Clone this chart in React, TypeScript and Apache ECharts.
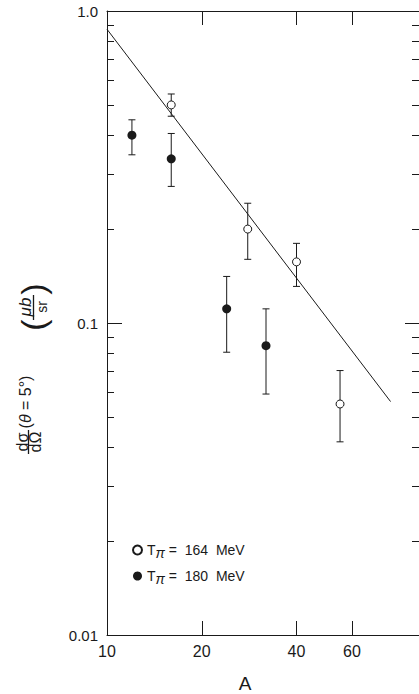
import React, { useEffect, useRef } from "react";
import * as echarts from "echarts";

const A_164 = [16, 28, 40, 55];
const S_164 = [0.5, 0.2, 0.157, 0.055];
const LO_164 = [0.46, 0.16, 0.131, 0.0416];
const HI_164 = [0.542, 0.242, 0.18, 0.0704];

const A_180 = [12, 16, 24, 32];
const S_180 = [0.4, 0.336, 0.111, 0.0846];
const LO_180 = [0.346, 0.274, 0.0806, 0.0592];
const HI_180 = [0.448, 0.405, 0.141, 0.111];

const FIT_A = [10, 79.6];
const FIT_S = [0.874, 0.056];

const X_LABELS = [10, 20, 40, 60];
const X_TICKS = [20, 40, 60];
const Y_LABELS = [0.01, 0.1, 1];
const Y_MAJOR = [0.1];
const Y_MINOR = [0.02, 0.03, 0.04, 0.05, 0.06, 0.07, 0.08, 0.09, 0.2, 0.3, 0.4, 0.5, 0.6, 0.7, 0.8, 0.9];

const NAME_164 = "Tπ = 164 MeV";
const NAME_180 = "Tπ = 180 MeV";

const INK = "#1a1a1a";
const FONT = "Liberation Sans";

export default function App() {
  const ref = useRef<HTMLDivElement>(null);
  useEffect(() => {
    if (!ref.current) return;
    const chart = echarts.init(ref.current, null, { renderer: "svg" });

    const errData = (a: number[], lo: number[], hi: number[]) => a.map((v, i) => [v, lo[i], hi[i]]);
    const renderErr = (params: any, api: any) => {
      const x = api.value(0);
      const p1 = api.coord([x, api.value(2)]);
      const p2 = api.coord([x, api.value(1)]);
      const w = 3.5;
      const st = { stroke: INK, lineWidth: 1 };
      return {
        type: "group",
        children: [
          { type: "line", shape: { x1: p1[0], y1: p1[1], x2: p2[0], y2: p2[1] }, style: st },
          { type: "line", shape: { x1: p1[0] - w, y1: p1[1], x2: p1[0] + w, y2: p1[1] }, style: st },
          { type: "line", shape: { x1: p2[0] - w, y1: p2[1], x2: p2[0] + w, y2: p2[1] }, style: st },
        ],
      };
    };

    const xBase = {
      type: "log",
      logBase: 10,
      min: 10,
      max: 98,
      splitLine: { show: false },
      minorTick: { show: false },
      axisLine: { show: true, lineStyle: { color: INK, width: 1 } },
    };
    const yBase = {
      type: "log",
      logBase: 10,
      min: 0.01,
      max: 1,
      splitLine: { show: false },
      minorTick: { show: false },
      axisLine: { show: false },
      axisLabel: { show: false },
    };

    chart.setOption({
      animation: false,
      backgroundColor: "#fff",
      textStyle: { fontFamily: FONT },
      grid: { left: 107, top: 11, right: -1, bottom: 59 },
      xAxis: [
        {
          ...xBase,
          position: "bottom",
          axisTick: { show: true, inside: true, length: 14, customValues: X_TICKS, lineStyle: { color: INK } },
          axisLabel: {
            show: true,
            customValues: X_LABELS,
            formatter: (v: number) => String(Math.round(v)),
            fontSize: 16,
            color: INK,
            margin: 8,
            fontFamily: FONT,
          },
        },
        {
          ...xBase,
          position: "top",
          axisTick: { show: true, inside: true, length: 14, customValues: X_TICKS, lineStyle: { color: INK } },
          axisLabel: { show: false },
        },
      ],
      yAxis: [
        {
          ...yBase,
          position: "left",
          axisLine: { show: true, lineStyle: { color: INK, width: 1 } },
          axisTick: { show: true, inside: true, length: 7, customValues: Y_MINOR, lineStyle: { color: INK } },
          axisLabel: {
            show: true,
            customValues: Y_LABELS,
            formatter: (v: number) => (v >= 0.99 ? "1.0" : v >= 0.099 ? "0.1" : "0.01"),
            fontSize: 15,
            color: INK,
            margin: 9,
            fontFamily: FONT,
          },
        },
        {
          ...yBase,
          position: "left",
          axisTick: { show: true, inside: true, length: 15, customValues: Y_MAJOR, lineStyle: { color: INK } },
        },
        {
          ...yBase,
          position: "right",
          axisLine: { show: true, lineStyle: { color: INK, width: 1 } },
          axisTick: { show: true, inside: true, length: 7, customValues: Y_MINOR, lineStyle: { color: INK } },
        },
        {
          ...yBase,
          position: "right",
          axisTick: { show: true, inside: true, length: 14, customValues: Y_MAJOR, lineStyle: { color: INK } },
        },
      ],
      legend: {
        orient: "vertical",
        left: 127,
        top: 534,
        itemWidth: 9,
        itemHeight: 9,
        itemGap: 5,
        icon: "circle",
        data: [NAME_164, NAME_180],
        formatter: (n: string) => n.replace("Tπ", "T{s|π}").replace("= ", "=  ").replace(" MeV", "  MeV"),
        textStyle: {
          fontSize: 14,
          color: INK,
          fontFamily: FONT,
          lineHeight: 20,
          rich: {
            s: { fontSize: 14, fontStyle: "italic", verticalAlign: "bottom", lineHeight: 14, padding: [7, 0, 0, 0], color: INK, fontFamily: FONT },
          },
        },
      },
      series: [
        {
          type: "custom",
          name: "err164",
          xAxisIndex: 0,
          yAxisIndex: 0,
          renderItem: renderErr,
          encode: { x: 0, y: [1, 2] },
          data: errData(A_164, LO_164, HI_164),
          z: 2,
        },
        {
          type: "custom",
          name: "err180",
          xAxisIndex: 0,
          yAxisIndex: 0,
          renderItem: renderErr,
          encode: { x: 0, y: [1, 2] },
          data: errData(A_180, LO_180, HI_180),
          z: 2,
        },
        {
          type: "line",
          name: "fit",
          xAxisIndex: 0,
          yAxisIndex: 0,
          data: FIT_A.map((a, i) => [a, FIT_S[i]]),
          showSymbol: false,
          symbol: "none",
          lineStyle: { color: INK, width: 1 },
          z: 3,
        },
        {
          type: "scatter",
          name: NAME_164,
          xAxisIndex: 0,
          yAxisIndex: 0,
          data: A_164.map((a, i) => [a, S_164[i]]),
          symbol: "circle",
          symbolSize: 8,
          itemStyle: { color: "#fff", borderColor: INK, borderWidth: 1, opacity: 1 },
          z: 5,
        },
        {
          type: "scatter",
          name: NAME_180,
          xAxisIndex: 0,
          yAxisIndex: 0,
          data: A_180.map((a, i) => [a, S_180[i]]),
          symbol: "circle",
          symbolSize: 9,
          itemStyle: { color: INK, opacity: 1 },
          z: 5,
        },
      ],
      graphic: [
        { type: "text", x: 245, y: 683, style: { text: "A", fontSize: 19, fill: INK, fontFamily: FONT, align: "center", verticalAlign: "middle" } },
        { type: "text", x: 22.5, y: 442, rotation: Math.PI / 2, style: { text: "dσ", fontSize: 16, fill: INK, fontFamily: FONT, align: "center", verticalAlign: "middle" } },
        { type: "text", x: 35, y: 442, rotation: Math.PI / 2, style: { text: "dΩ", fontSize: 16, fill: INK, fontFamily: FONT, align: "center", verticalAlign: "middle" } },
        { type: "line", shape: { x1: 28.5, y1: 430, x2: 28.5, y2: 454 }, style: { stroke: INK, lineWidth: 1.3 } },
        {
          type: "text",
          x: 25.5,
          y: 402,
          rotation: Math.PI / 2,
          style: {
            text: "({i|θ} = 5°)",
            fontSize: 16,
            fill: INK,
            fontFamily: FONT,
            align: "center",
            verticalAlign: "middle",
            rich: { i: { fontSize: 16, fontStyle: "italic", fill: INK, fontFamily: FONT } },
          },
        },
        { type: "text", x: 33, y: 325, rotation: Math.PI / 2, style: { text: "(", fontSize: 34, fill: INK, fontFamily: FONT, align: "center", verticalAlign: "middle" } },
        { type: "text", x: 33, y: 289, rotation: Math.PI / 2, style: { text: ")", fontSize: 34, fill: INK, fontFamily: FONT, align: "center", verticalAlign: "middle" } },
        { type: "text", x: 25.5, y: 307, rotation: Math.PI / 2, style: { text: "μb", fontSize: 17, fontStyle: "italic", fill: INK, fontFamily: FONT, align: "center", verticalAlign: "middle" } },
        { type: "line", shape: { x1: 33.5, y1: 295, x2: 33.5, y2: 320 }, style: { stroke: INK, lineWidth: 1.3 } },
        { type: "text", x: 42, y: 307, rotation: Math.PI / 2, style: { text: "sr", fontSize: 14, fill: INK, fontFamily: FONT, align: "center", verticalAlign: "middle" } },
      ],
    });
    return () => chart.dispose();
  }, []);
  return <div ref={ref} style={{ position: "absolute", left: 0, top: 0, width: 419, height: 694 }} />;
}
